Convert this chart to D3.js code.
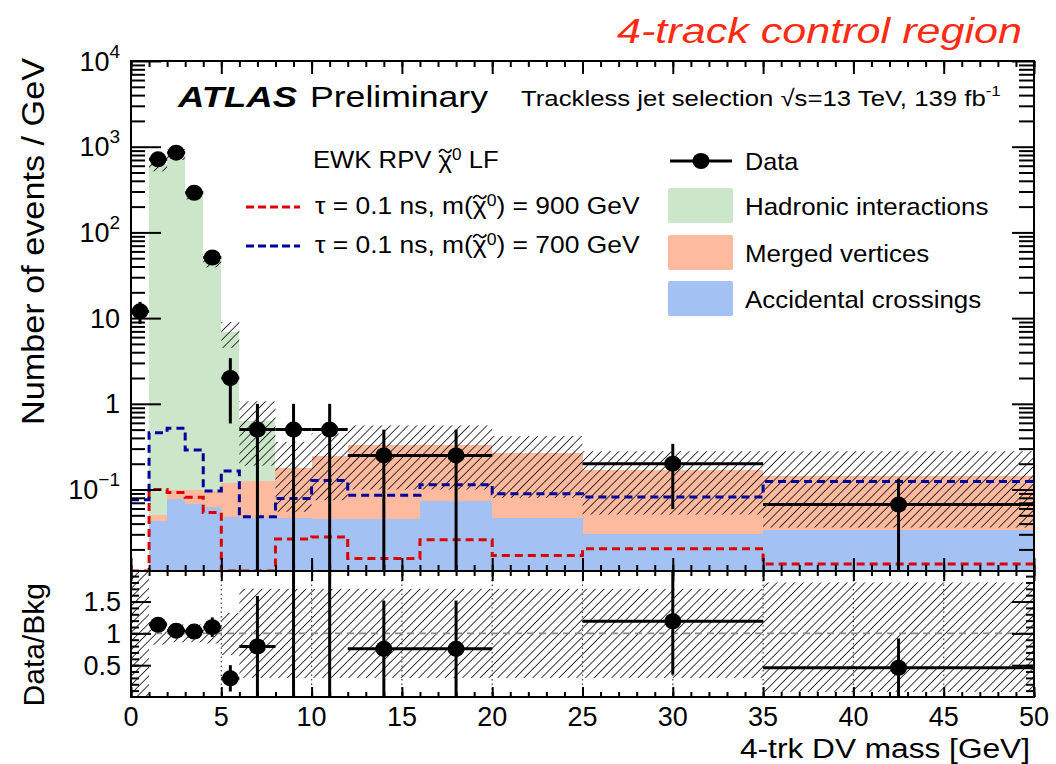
<!DOCTYPE html>
<html>
<head>
<meta charset="utf-8">
<script src="https://cdn.jsdelivr.net/npm/d3@7"></script>
<style>
  body { margin: 0; background: #fff; }
  svg { display: block; }
  text { font-family: "Liberation Sans", Arial, Helvetica, sans-serif; fill: #000; }
</style>
</head>
<body>
<svg id="chart" width="1056" height="764"></svg>
<script>
// ---- binning of the 4-trk DV mass [GeV] ----
const binLow  = [0, 1, 2, 3, 4, 5, 6, 8, 10, 12, 16, 20, 25, 35];
const binHigh = [1, 2, 3, 4, 5, 6, 8, 10, 12, 16, 20, 25, 35, 50];

// ---- background stack (events / GeV) ----
const accidental = [0, 0.043, 0.078, 0.067, 0.063, 0.048, 0.046, 0.046, 0.045, 0.045, 0.073, 0.047, 0.030, 0.034];
const merged     = [0, 0.008, 0.022, 0.033, 0.034, 0.072, 0.079, 0.133, 0.200, 0.285, 0.257, 0.221, 0.138, 0.111];
const hadronic   = [0, 629, 816, 282, 46.4, 6.7, 0.505, 0, 0, 0, 0, 0, 0, 0];

// ---- total background uncertainty band (events / GeV) ----
const bandLow  = [null, 515, 700, 242, 39, 4.5, 0.19, 0.055, 0.075, 0.10, 0.10, 0.08, 0.051, 0.036];
const bandHigh = [null, 745, 935, 322, 54, 9.0, 1.07, 0.36, 0.45, 0.56, 0.56, 0.42, 0.28, 0.28];

// ---- uncertainty band in the ratio panel ----
const ratioBandLow  = [0, 0.82, 0.86, 0.86, 0.84, 0.66, 0.30, 0.30, 0.30, 0.30, 0.30, 0.30, 0.30, 0.08];
const ratioBandHigh = [1.98, 1.18, 1.14, 1.14, 1.16, 1.32, 1.70, 1.70, 1.70, 1.70, 1.70, 1.70, 1.70, 1.80];

// ---- signal samples (events / GeV) ----
const sig900 = [0, 0.100, 0.092, 0.081, 0.054, 0, 0, 0.0265, 0.028, 0.0157, 0.026, 0.017, 0.0204, 0.0135];
const sig700 = [0.076, 0.46, 0.52, 0.29, 0.096, 0.164, 0.048, 0.0785, 0.127, 0.086, 0.114, 0.089, 0.082, 0.124];

// ---- data (events / GeV), null where no event ----
const dataVal = [12, 713, 851, 290, 51, 2, 0.5, 0.5, 0.5, 0.25, 0.25, null, 0.2, 0.0667];
const dataErr = [3.46, 26.7, 29.2, 17.0, 7.1, 1.41, 0.5, 0.5, 0.5, 0.25, 0.25, null, 0.141, 0.0667];

// ---- axis ticks ----
const xTicks = [0, 5, 10, 15, 20, 25, 30, 35, 40, 45, 50];
const xTickLabels = ["0", "5", "10", "15", "20", "25", "30", "35", "40", "45", "50"];
const yTickVals = [1e4, 1e3, 1e2, 10, 1, 0.1];
const yTickBase = ["10", "10", "10", "10", "1", "10"];
const yTickExp  = ["4", "3", "2", "", "", "\u22121"];
const rTickVals = [0.5, 1, 1.5];
const rTickLabels = ["0.5", "1", "1.5"];

// ---- colours ----
const colHad = "#cbe6c9", colMerged = "#fdba9e", colAcc = "#a4c1f3";
const colRed = "#dd0000", colBlue = "#00009c";

// ---- geometry ----
const L = 131, R = 1034, mainTop = 61, mainBot = 571, ratTop = 571, ratBot = 697;
const yMin = 0.0112, yMax = 1e4, rMax = 1.98;

const svg = d3.select("#chart");
const x = d3.scaleLinear().domain([0, 50]).range([L, R]);
const y = d3.scaleLog().domain([yMin, yMax]).range([mainBot, mainTop]);
const r = d3.scaleLinear().domain([0, rMax]).range([ratBot, ratTop]);
const yc = v => y(Math.max(v, yMin));

const defs = svg.append("defs");
defs.append("clipPath").attr("id", "clipMain")
  .append("rect").attr("x", L).attr("y", mainTop).attr("width", R - L).attr("height", mainBot - mainTop);
defs.append("clipPath").attr("id", "clipRatio")
  .append("rect").attr("x", L).attr("y", ratTop).attr("width", R - L).attr("height", ratBot - ratTop);
const hatch = defs.append("pattern").attr("id", "hatch")
  .attr("patternUnits", "userSpaceOnUse").attr("width", 6.2).attr("height", 6.2)
  .attr("patternTransform", "rotate(45)");
hatch.append("line").attr("x1", 0).attr("y1", -1).attr("x2", 0).attr("y2", 8)
  .attr("stroke", "#000").attr("stroke-width", 1.5);

const bins = binLow.map((lo, i) => ({
  i, lo, hi: binHigh[i],
  acc: accidental[i], mer: merged[i], had: hadronic[i],
  bLo: bandLow[i], bHi: bandHigh[i],
  rLo: ratioBandLow[i], rHi: ratioBandHigh[i],
  d: dataVal[i], e: dataErr[i]
}));

// ================= main panel =================
const main = svg.append("g").attr("clip-path", "url(#clipMain)");

// stacked backgrounds: accidental (bottom), merged, hadronic (top)
const layers = [
  { key: "acc", col: colAcc, base: b => 0, top: b => b.acc },
  { key: "mer", col: colMerged, base: b => b.acc, top: b => b.acc + b.mer },
  { key: "had", col: colHad, base: b => b.acc + b.mer, top: b => b.acc + b.mer + b.had }
];
layers.forEach(Ly => {
  main.append("g").selectAll("rect")
    .data(bins.filter(b => b[Ly.key] > 0))
    .join("rect")
    .attr("x", b => x(b.lo)).attr("width", b => x(b.hi) - x(b.lo))
    .attr("y", b => yc(Ly.top(b)))
    .attr("height", b => yc(Ly.base(b)) - yc(Ly.top(b)))
    .attr("fill", Ly.col).attr("shape-rendering", "crispEdges");
});

// background uncertainty band
main.append("g").selectAll("rect")
  .data(bins.filter(b => b.bLo !== null))
  .join("rect")
  .attr("x", b => x(b.lo)).attr("width", b => x(b.hi) - x(b.lo))
  .attr("y", b => yc(b.bHi)).attr("height", b => yc(b.bLo) - yc(b.bHi))
  .attr("fill", "url(#hatch)");

// signal histograms
const stepLine = d3.line().x(p => x(p[0])).y(p => yc(p[1]));
function stepPoints(vals) {
  const pts = [];
  vals.forEach((v, i) => { pts.push([binLow[i], v]); pts.push([binHigh[i], v]); });
  return pts;
}
main.append("path").attr("d", stepLine(stepPoints(sig900)))
  .attr("fill", "none").attr("stroke", colRed).attr("stroke-width", 3).attr("stroke-dasharray", "8,5");
main.append("path").attr("d", stepLine(stepPoints(sig700)))
  .attr("fill", "none").attr("stroke", colBlue).attr("stroke-width", 3).attr("stroke-dasharray", "8,5");

// data points
const dataBins = bins.filter(b => b.d !== null);
const dm = main.append("g");
dm.selectAll("line.ey").data(dataBins).join("line")
  .attr("x1", b => x((b.lo + b.hi) / 2)).attr("x2", b => x((b.lo + b.hi) / 2))
  .attr("y1", b => yc(b.d - b.e)).attr("y2", b => yc(b.d + b.e))
  .attr("stroke", "#000").attr("stroke-width", 3);
dm.selectAll("line.ex").data(dataBins).join("line")
  .attr("x1", b => x(b.lo)).attr("x2", b => x(b.hi))
  .attr("y1", b => yc(b.d)).attr("y2", b => yc(b.d))
  .attr("stroke", "#000").attr("stroke-width", 3);
dm.selectAll("ellipse").data(dataBins).join("ellipse")
  .attr("cx", b => x((b.lo + b.hi) / 2)).attr("cy", b => yc(b.d))
  .attr("rx", 8.5).attr("ry", 8).attr("fill", "#000");

// ================= ratio panel =================
const rat = svg.append("g").attr("clip-path", "url(#clipRatio)");
rat.append("g").selectAll("rect").data(bins).join("rect")
  .attr("x", b => x(b.lo)).attr("width", b => x(b.hi) - x(b.lo))
  .attr("y", b => r(b.rHi)).attr("height", b => r(b.rLo) - r(b.rHi))
  .attr("fill", "url(#hatch)");

// dotted vertical grid
rat.append("g").selectAll("line").data(xTicks.slice(1, -1)).join("line")
  .attr("x1", d => x(d)).attr("x2", d => x(d)).attr("y1", ratTop).attr("y2", ratBot)
  .attr("stroke", "#444").attr("stroke-width", 1.2).attr("stroke-dasharray", "1.5,3");
// unity line
rat.append("line").attr("x1", L).attr("x2", R).attr("y1", r(1)).attr("y2", r(1))
  .attr("stroke", "#888").attr("stroke-width", 1.8).attr("stroke-dasharray", "7,5");

const ratioBins = dataBins.filter(b => (b.acc + b.mer + b.had) > 0).map(b => {
  const tot = b.acc + b.mer + b.had;
  return { lo: b.lo, hi: b.hi, v: b.d / tot, e: b.e / tot };
});
// points above the panel range only show their error bar
const inRange = ratioBins.filter(b => b.v <= rMax);
const rm = rat.append("g");
rm.selectAll("line.ey").data(ratioBins).join("line")
  .attr("x1", b => x((b.lo + b.hi) / 2)).attr("x2", b => x((b.lo + b.hi) / 2))
  .attr("y1", b => r(b.v - b.e)).attr("y2", b => r(b.v + b.e))
  .attr("stroke", "#000").attr("stroke-width", 3);
rm.selectAll("line.ex").data(inRange).join("line")
  .attr("x1", b => x(b.lo)).attr("x2", b => x(b.hi))
  .attr("y1", b => r(b.v)).attr("y2", b => r(b.v))
  .attr("stroke", "#000").attr("stroke-width", 3);
rm.selectAll("ellipse").data(inRange).join("ellipse")
  .attr("cx", b => x((b.lo + b.hi) / 2)).attr("cy", b => r(b.v))
  .attr("rx", 8.5).attr("ry", 8).attr("fill", "#000");

// ================= axes & frames =================
function styleAxis(g) {
  g.select(".domain").remove();
  g.selectAll(".tick line").attr("stroke", "#000").attr("stroke-width", 2);
  g.selectAll(".tick text").remove();
}
const xMinor = d3.range(0, 51, 1);
const logMinor = [];
d3.range(-2, 4).forEach(e => d3.range(2, 10).forEach(k => {
  const v = k * Math.pow(10, e);
  if (v > yMin && v < yMax) logMinor.push(v);
}));
const rMinor = d3.range(0.1, 1.95, 0.1);

// main panel x ticks (top and bottom)
svg.append("g").attr("transform", `translate(0,${mainBot})`)
  .call(d3.axisBottom(x).tickValues(xMinor).tickSize(-6)).call(styleAxis);
svg.append("g").attr("transform", `translate(0,${mainBot})`)
  .call(d3.axisBottom(x).tickValues(xTicks).tickSize(-13)).call(styleAxis);
svg.append("g").attr("transform", `translate(0,${mainTop})`)
  .call(d3.axisTop(x).tickValues(xMinor).tickSize(-6)).call(styleAxis);
svg.append("g").attr("transform", `translate(0,${mainTop})`)
  .call(d3.axisTop(x).tickValues(xTicks).tickSize(-13)).call(styleAxis);
// main panel log y ticks (left and right)
svg.append("g").attr("transform", `translate(${L},0)`)
  .call(d3.axisLeft(y).tickValues(logMinor).tickSize(-14)).call(styleAxis);
svg.append("g").attr("transform", `translate(${L},0)`)
  .call(d3.axisLeft(y).tickValues(yTickVals).tickSize(-30)).call(styleAxis);
svg.append("g").attr("transform", `translate(${R},0)`)
  .call(d3.axisRight(y).tickValues(logMinor).tickSize(-15)).call(styleAxis);
svg.append("g").attr("transform", `translate(${R},0)`)
  .call(d3.axisRight(y).tickValues(yTickVals).tickSize(-22)).call(styleAxis);

// ratio panel ticks
svg.append("g").attr("transform", `translate(0,${ratBot})`)
  .call(d3.axisBottom(x).tickValues(xMinor).tickSize(-5)).call(styleAxis);
svg.append("g").attr("transform", `translate(0,${ratBot})`)
  .call(d3.axisBottom(x).tickValues(xTicks).tickSize(-10)).call(styleAxis);
svg.append("g").attr("transform", `translate(0,${ratTop})`)
  .call(d3.axisTop(x).tickValues(xMinor).tickSize(-5)).call(styleAxis);
svg.append("g").attr("transform", `translate(0,${ratTop})`)
  .call(d3.axisTop(x).tickValues(xTicks).tickSize(-10)).call(styleAxis);
svg.append("g").attr("transform", `translate(${L},0)`)
  .call(d3.axisLeft(r).tickValues(rMinor).tickSize(-8)).call(styleAxis);
svg.append("g").attr("transform", `translate(${L},0)`)
  .call(d3.axisLeft(r).tickValues(rTickVals).tickSize(-20)).call(styleAxis);
svg.append("g").attr("transform", `translate(${R},0)`)
  .call(d3.axisRight(r).tickValues(rMinor).tickSize(-8)).call(styleAxis);
svg.append("g").attr("transform", `translate(${R},0)`)
  .call(d3.axisRight(r).tickValues(rTickVals).tickSize(-22)).call(styleAxis);

// frames
svg.append("rect").attr("x", L).attr("y", mainTop).attr("width", R - L).attr("height", mainBot - mainTop)
  .attr("fill", "none").attr("stroke", "#000").attr("stroke-width", 2);
svg.append("rect").attr("x", L).attr("y", ratTop).attr("width", R - L).attr("height", ratBot - ratTop)
  .attr("fill", "none").attr("stroke", "#000").attr("stroke-width", 2);

// ================= tick labels =================
const tickFont = 27;
const yl = svg.append("g");
yTickVals.forEach((v, i) => {
  const t = yl.append("text").attr("x", 120).attr("y", y(v) + 9.5)
    .attr("text-anchor", "end").attr("font-size", tickFont);
  t.append("tspan").text(yTickBase[i]);
  if (yTickExp[i]) t.append("tspan").attr("dy", -13).attr("font-size", 19).text(yTickExp[i]);
});
rTickVals.forEach((v, i) => {
  yl.append("text").attr("x", 121).attr("y", r(v) + 9.5)
    .attr("text-anchor", "end").attr("font-size", tickFont).text(rTickLabels[i]);
});
xTicks.forEach((v, i) => {
  yl.append("text").attr("x", x(v)).attr("y", 726)
    .attr("text-anchor", "middle").attr("font-size", tickFont).text(xTickLabels[i]);
});

// ================= titles =================
svg.append("text").attr("transform", "translate(44,58) rotate(-90)")
  .attr("text-anchor", "end").attr("font-size", 31)
  .attr("textLength", 367).attr("lengthAdjust", "spacingAndGlyphs")
  .text("Number of events / GeV");
svg.append("text").attr("transform", "translate(44,583) rotate(-90)")
  .attr("text-anchor", "end").attr("font-size", 30)
  .text("Data/Bkg");
svg.append("text").attr("x", 1030).attr("y", 758)
  .attr("text-anchor", "end").attr("font-size", 27)
  .attr("textLength", 290).attr("lengthAdjust", "spacingAndGlyphs")
  .text("4-trk DV mass [GeV]");

svg.append("text").attr("x", 617).attr("y", 43)
  .attr("font-size", 35).attr("font-style", "italic").style("fill", "#ff2a12")
  .attr("textLength", 405).attr("lengthAdjust", "spacingAndGlyphs")
  .text("4-track control region");

svg.append("text").attr("x", 178).attr("y", 107)
  .attr("font-size", 30).attr("font-weight", "bold").attr("font-style", "italic")
  .attr("textLength", 119).attr("lengthAdjust", "spacingAndGlyphs")
  .text("ATLAS");
svg.append("text").attr("x", 310).attr("y", 107)
  .attr("font-size", 30)
  .attr("textLength", 178).attr("lengthAdjust", "spacingAndGlyphs")
  .text("Preliminary");

// text block stretched horizontally to its printed width
function wideText(xPos, yPos, sx, size) {
  return svg.append("g").attr("transform", `translate(${xPos},${yPos}) scale(${sx},1)`)
    .append("text").attr("x", 0).attr("y", 0).attr("font-size", size);
}

const lumi = wideText(521, 106, 1.12, 23);
lumi.append("tspan").text("Trackless jet selection \u221As=13 TeV, 139 fb");
lumi.append("tspan").attr("dy", -10).attr("font-size", 15).text("-1");

// ================= signal legend =================
// neutralino symbol: chi with a tilde stroke above and a superscript 0
function chiText(sel, pre, post) {
  sel.append("tspan").text(pre);
  sel.append("tspan").text("\u03C7");
  sel.append("tspan").attr("dy", -8).attr("font-size", 16).text("0");
  sel.append("tspan").attr("dy", 8).text(post);
  const node = sel.node();
  const idx = pre.length;
  const p = node.getStartPositionOfChar(idx);
  const w = node.getSubStringLength(idx, 1);
  const cx = p.x + w / 2, ty = p.y - 17;
  const tp = d3.path();
  tp.moveTo(cx - 6, ty + 1.5);
  tp.quadraticCurveTo(cx - 3, ty - 3.5, cx, ty);
  tp.quadraticCurveTo(cx + 3, ty + 3.5, cx + 6, ty - 1.5);
  d3.select(node.parentNode).append("path").attr("d", tp.toString())
    .attr("fill", "none").attr("stroke", "#000").attr("stroke-width", 1.6);
}
const leg1 = wideText(313, 168, 1.07, 24);
chiText(leg1, "EWK RPV ", " LF");

const sigLegend = [
  { col: colRed, y: 207, label: ") = 900 GeV" },
  { col: colBlue, y: 246, label: ") = 700 GeV" }
];
sigLegend.forEach(s => {
  svg.append("line").attr("x1", 246).attr("x2", 300).attr("y1", s.y).attr("y2", s.y)
    .attr("stroke", s.col).attr("stroke-width", 3).attr("stroke-dasharray", "8,4");
  const t = wideText(315, s.y + 7, 1.1, 24);
  chiText(t, "\u03C4 = 0.1 ns, m(", s.label);
});

// ================= background legend =================
svg.append("line").attr("x1", 670).attr("x2", 732).attr("y1", 161).attr("y2", 161)
  .attr("stroke", "#000").attr("stroke-width", 3);
svg.append("ellipse").attr("cx", 701).attr("cy", 161).attr("rx", 8.5).attr("ry", 8).attr("fill", "#000");
wideText(745, 170, 1.05, 24).text("Data");

const bkgLegend = [
  { col: colHad, y: 188, label: "Hadronic interactions" },
  { col: colMerged, y: 235, label: "Merged vertices" },
  { col: colAcc, y: 281, label: "Accidental crossings" }
];
bkgLegend.forEach(b => {
  svg.append("rect").attr("x", 668).attr("y", b.y).attr("width", 65).attr("height", 35)
    .attr("rx", 2).attr("fill", b.col);
  wideText(745, b.y + 27, 1.08, 24).text(b.label);
});
</script>
</body>
</html>
